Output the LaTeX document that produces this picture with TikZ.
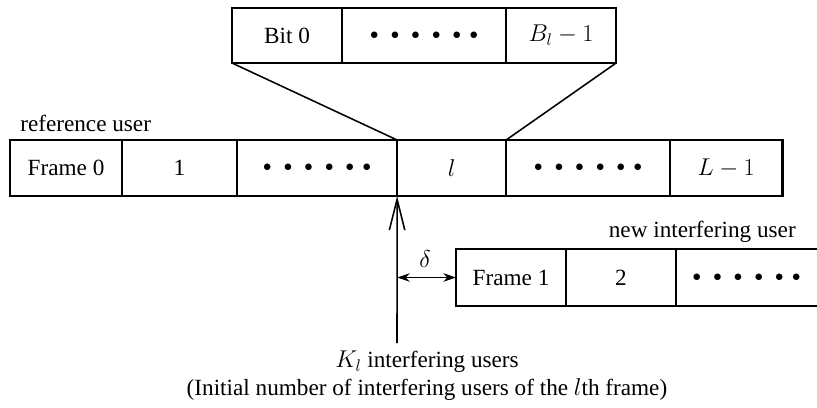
\documentclass[tikz,border=0pt]{standalone}
\usepackage{fontspec}
\setmainfont{Liberation Serif}
\usetikzlibrary{positioning}
\usetikzlibrary{arrows.meta}
\newcommand{\dotrow}{{\fontsize{12}{12}\selectfont$\bullet\kern6pt\bullet\kern6pt\bullet\kern6pt\bullet\kern6pt\bullet\kern6pt\bullet$}}

\begin{document}
\begin{tikzpicture}[x=0.025cm,y=-0.025cm,font=\fontsize{16.5}{20}\selectfont]
		\tikzset{>=latex}
		\tikzset{cell/.style={draw,line width=1.1pt,inner sep=0pt,outer sep=0pt,minimum height=1.4cm}}
		\tikzset{frameline/.style={line width=2.1pt}}
		\useasboundingbox (0,0) rectangle (817,408);
		
		% frames of the reference user
		\node[cell,minimum width=2.8cm,anchor=west] (f0) at (10,168) {Frame 0};
		\node[cell,minimum width=2.875cm,right=0pt of f0] (f1) {1};
		\node[cell,minimum width=4cm,right=0pt of f1] (fd1) {\dotrow};
		\node[cell,minimum width=2.725cm,right=0pt of fd1] (fl) {$l$};
		\node[cell,minimum width=4.1cm,right=0pt of fl] (fd2) {\dotrow};
		\node[cell,minimum width=2.8cm,right=0pt of fd2] (fL) {$L-1$};
		\draw[frameline] (f0.north west) rectangle (fL.south east);
		\node[anchor=south west,inner sep=0pt] (ref) at (20,132) {reference user};
		
		% bits of the lth frame
		\node[cell,minimum height=1.375cm,minimum width=2.75cm,anchor=west] (b0) at (232,35.5) {Bit 0};
		\node[cell,minimum height=1.375cm,minimum width=4.1cm,right=0pt of b0] (bd) {\dotrow};
		\node[cell,minimum height=1.375cm,minimum width=2.75cm,right=0pt of bd] (bB) {$B_l-1$};
		\draw[line width=1.1pt] (b0.south west) -- (fl.north west);
		\draw[line width=1.1pt] (bB.south east) -- (fd2.north west);
		
		% new interfering user
		\node[cell,minimum height=1.425cm,minimum width=2.75cm,anchor=west] (n1) at (456,277.5) {Frame 1};
		\node[cell,minimum height=1.425cm,minimum width=2.75cm,right=0pt of n1] (n2) {2};
		\node[inner sep=0pt,outer sep=0pt,minimum height=1.425cm,minimum width=3.525cm,right=0pt of n2] (nd) {\dotrow};
		\draw[frameline] (nd.north east) -- (n1.north west) -- (n1.south west) -- (nd.south east);
		\node[anchor=south east,inner sep=0pt] (new) at (796,243) {new interfering user};
		
		% start of the lth frame
		\coordinate (kbot) at (397,343);
		\draw[-{Straight Barb[length=22pt,width=11pt]},line width=1.1pt] (kbot) -- (fl.south west);
		\draw[{Stealth[length=9pt,width=6pt]}-{Stealth[length=9pt,width=6pt]},line width=1.1pt] (fl.south west |- n1.west) -- (n1.west);
		\node (delta) at (425,259) {$\delta$};
		
		\node[align=center,inner sep=0pt] (kl) at (427,376) {$K_l$ interfering users\\(Initial number of interfering users of the $l$th frame)};
\end{tikzpicture}
\end{document}
